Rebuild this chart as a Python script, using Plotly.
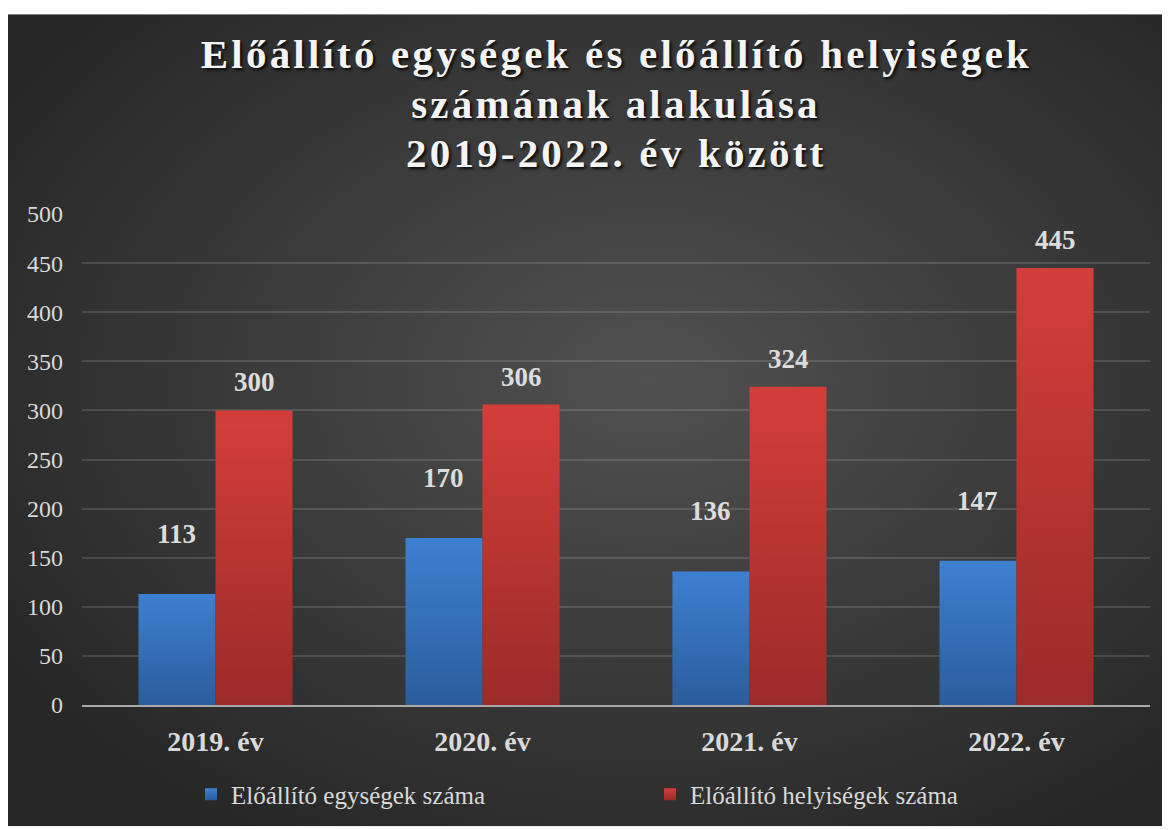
import base64
import plotly.graph_objects as go

years = ["2019. év", "2020. év", "2021. év", "2022. év"]
units = [113, 170, 136, 147]
rooms = [300, 306, 324, 445]
title_lines = ["Előállító egységek és előállító helyiségek",
               "számának alakulása",
               "2019-2022. év között"]
y_ticks = [0, 50, 100, 150, 200, 250, 300, 350, 400, 450, 500]

FONT = "Liberation Serif, Times New Roman, serif"
OFF = 8  # page body margin
W, H = 1170 - OFF, 830 - OFF
L, R, T, B = 82 - OFF, 20, 214 - OFF, 122
pw, ph = W - L - R, H - T - B


# screen pixel -> paper coordinates
def px_x(px):
    return (px - OFF - L) / pw


def px_y(py):
    return (H - B - (py - OFF)) / ph


# dark radial background panel
svg = ('<svg xmlns="http://www.w3.org/2000/svg" width="400" height="300" viewBox="0 0 400 300" '
       'preserveAspectRatio="none"><defs><radialGradient id="g" cx="55%" cy="45%" r="65%">'
       '<stop offset="0" stop-color="#515151"/><stop offset="1" stop-color="#272727"/>'
       '</radialGradient></defs><rect width="400" height="300" fill="url(#g)"/></svg>')
bg_src = "data:image/svg+xml;base64," + base64.b64encode(svg.encode()).decode()

fig = go.Figure()
fig.add_trace(go.Bar(x=years, y=units, name="Előállító egységek száma",
                     marker=dict(color="#3471bb", line=dict(width=0))))
fig.add_trace(go.Bar(x=years, y=rooms, name="Előállító helyiségek száma",
                     marker=dict(color="#bb3734", line=dict(width=0))))

# title, one annotation per line
for line, py in zip(title_lines, [53, 103, 153]):
    fig.add_annotation(text=line, xref="paper", yref="paper", x=0.5, y=px_y(py),
                       xanchor="center", yanchor="middle", showarrow=False,
                       font=dict(family=FONT, size=41, color="#f4f4f4", weight="bold",
                                 shadow="2px 2px 3px rgba(0,0,0,0.85)"))

# data labels
half_bar = pw / len(years) * 0.577 / 4
for yr, u, r in zip(years, units, rooms):
    fig.add_annotation(x=yr, y=u, text=str(u), showarrow=False, xshift=-half_bar, yshift=60,
                       yanchor="middle",
                       font=dict(family=FONT, size=27, color="#dcdcdc", weight="bold"))
    fig.add_annotation(x=yr, y=r, text=str(r), showarrow=False, xshift=half_bar, yshift=28,
                       yanchor="middle",
                       font=dict(family=FONT, size=27, color="#dcdcdc", weight="bold"))

fig.add_layout_image(dict(source=bg_src, xref="paper", yref="paper",
                          x=px_x(8), y=px_y(13), sizex=px_x(1170) - px_x(8),
                          sizey=px_y(13) - px_y(830),
                          xanchor="left", yanchor="top", sizing="stretch", layer="below"))

fig.update_layout(
    width=W, height=H,
    margin=dict(l=L, r=R, t=T, b=B),
    paper_bgcolor="white",
    plot_bgcolor="rgba(0,0,0,0)",
    barmode="group", bargap=0.423, bargroupgap=0,
    font=dict(family=FONT, color="#d9d9d9"),
    showlegend=True,
    legend=dict(orientation="h", xanchor="left", yanchor="middle",
                x=px_x(191), y=px_y(798), entrywidth=414,
                font=dict(family=FONT, size=25, color="#d9d9d9"),
                bgcolor="rgba(0,0,0,0)"),
    xaxis=dict(showgrid=False, showline=True, linecolor="#a8a8a8", linewidth=2,
               ticks="", ticklabelstandoff=10,
               tickfont=dict(family=FONT, size=28, color="#d9d9d9", weight="bold")),
    yaxis=dict(range=[0, 500], tickvals=y_ticks, showgrid=True,
               gridcolor="rgba(255,255,255,0.13)", gridwidth=1.5, zeroline=False,
               showline=False, ticks="", ticklabelstandoff=18,
               tickfont=dict(family=FONT, size=24, color="#d9d9d9")),
)

# letter spacing for the title lines, vertical gradients on the bars
post = """
document.querySelectorAll('.annotation').forEach(function(a){
  if (+a.getAttribute('data-index') < 3) {
    a.querySelectorAll('text').forEach(function(t){ t.style.letterSpacing = '3.2px'; });
  }
});
var ns = 'http://www.w3.org/2000/svg';
var defs = document.querySelector('.main-svg defs');
function grad(id, c1, c2) {
  var g = document.createElementNS(ns, 'linearGradient');
  g.setAttribute('id', id);
  g.setAttribute('x1', '0'); g.setAttribute('y1', '0');
  g.setAttribute('x2', '0'); g.setAttribute('y2', '1');
  [[0, c1], [1, c2]].forEach(function(s){
    var st = document.createElementNS(ns, 'stop');
    st.setAttribute('offset', s[0]); st.setAttribute('stop-color', s[1]);
    g.appendChild(st);
  });
  defs.appendChild(g);
}
grad('gblue', '#3d80d1', '#2b5d9c');
grad('gred', '#d43e3a', '#9b2b29');
var ids = ['gblue', 'gred'];
document.querySelectorAll('.trace.bars').forEach(function(tr, i){
  tr.querySelectorAll('path').forEach(function(p){ p.style.fill = 'url(#' + ids[i] + ')'; });
});
document.querySelectorAll('.legend .traces').forEach(function(tr, i){
  tr.querySelectorAll('.legendpoints path').forEach(function(p){ p.style.fill = 'url(#' + ids[i] + ')'; });
});
"""
fig.write_html("out.html", post_script=post)
